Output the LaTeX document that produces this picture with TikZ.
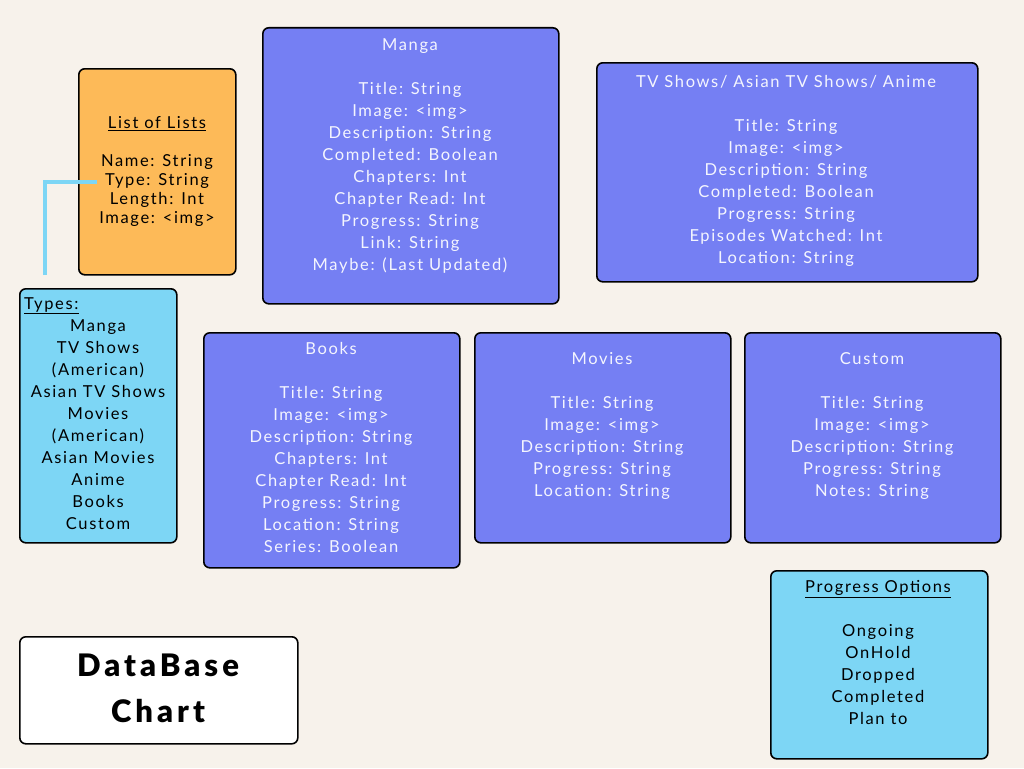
\documentclass[tikz,border=0pt]{standalone}
\usepackage{fontspec}
\setmainfont[LetterSpace=10]{Lato}
\newfontfamily\titlefont[LetterSpace=13]{Lato Black}
\definecolor{bg}{HTML}{F7F2EB}
\definecolor{purp}{HTML}{757FF3}
\definecolor{orng}{HTML}{FDBA58}
\definecolor{sky}{HTML}{7DD6F5}
\begin{document}
\begin{tikzpicture}[x=1pt,y=-1pt,
  card/.style={draw=black,line width=1.6pt,rounded corners=6pt,anchor=north west,inner sep=0pt},
  txt/.style={anchor=north,align=center,inner sep=0pt,font=\fontsize{16.5}{22}\selectfont},
  wtxt/.style={txt,text=white!92!purp}]
\fill[bg] (0,0) rectangle (1024,768);
\useasboundingbox (0,0) rectangle (1024,768);
% boxes
\node[card,fill=orng,minimum width=157pt,minimum height=206pt] (lol) at (78,68) {};
\node[card,fill=sky,minimum width=157pt,minimum height=254pt] (types) at (19,288) {};
\node[card,fill=white,minimum width=278pt,minimum height=107pt] (db) at (19,636) {};
\node[card,fill=purp,minimum width=296pt,minimum height=276pt] (manga) at (262,27) {};
\node[card,fill=purp,minimum width=381pt,minimum height=219pt] (tv) at (596,62) {};
\node[card,fill=purp,minimum width=256pt,minimum height=235pt] (books) at (203,332) {};
\node[card,fill=purp,minimum width=256pt,minimum height=210pt] (movies) at (474,332) {};
\node[card,fill=purp,minimum width=256pt,minimum height=210pt] (custom) at (744,332) {};
\node[card,fill=sky,minimum width=217pt,minimum height=188pt] (prog) at (770,570) {};
% texts
\node[txt,font=\fontsize{16.5}{19}\selectfont] (lolt) at (157,116) {\underline{List of Lists}\\[19pt]Name: String\\Type: String\\Length: Int\\Image: <img>};
\node[txt,anchor=north west] (typest) at (24,297) {\underline{Types:}};
\node[txt] (typesl) at (98,319) {Manga\\TV Shows\\(American)\\Asian TV Shows\\Movies\\(American)\\Asian Movies\\Anime\\Books\\Custom};
\node[txt,font=\titlefont\fontsize{31}{46}\selectfont] (dbt) at (158,654) {DataBase\\Chart};
\node[wtxt] (mangat) at (410,38) {Manga\\[22pt]Title: String\\Image: <img>\\Description: String\\Completed: Boolean\\Chapters: Int\\Chapter Read: Int\\Progress: String\\Link: String\\Maybe: (Last Updated)};
\node[wtxt] (tvt) at (786,75) {TV Shows/ Asian TV Shows/ Anime\\[22pt]Title: String\\Image: <img>\\Description: String\\Completed: Boolean\\Progress: String\\Episodes Watched: Int\\Location: String};
\node[wtxt] (bookst) at (331,342) {Books\\[22pt]Title: String\\Image: <img>\\Description: String\\Chapters: Int\\Chapter Read: Int\\Progress: String\\Location: String\\Series: Boolean};
\node[wtxt] (moviest) at (602,352) {Movies\\[22pt]Title: String\\Image: <img>\\Description: String\\Progress: String\\Location: String};
\node[wtxt] (customt) at (872,352) {Custom\\[22pt]Title: String\\Image: <img>\\Description: String\\Progress: String\\Notes: String};
\node[txt] (progt) at (878,580) {\underline{Progress Options}\\[22pt]Ongoing\\OnHold\\Dropped\\Completed\\Plan to};
% connector
\coordinate (cstart) at (45,275);
\coordinate (cend) at (97,182);
\draw[sky,line width=4pt] (cstart) |- (cend);
\end{tikzpicture}
\end{document}
